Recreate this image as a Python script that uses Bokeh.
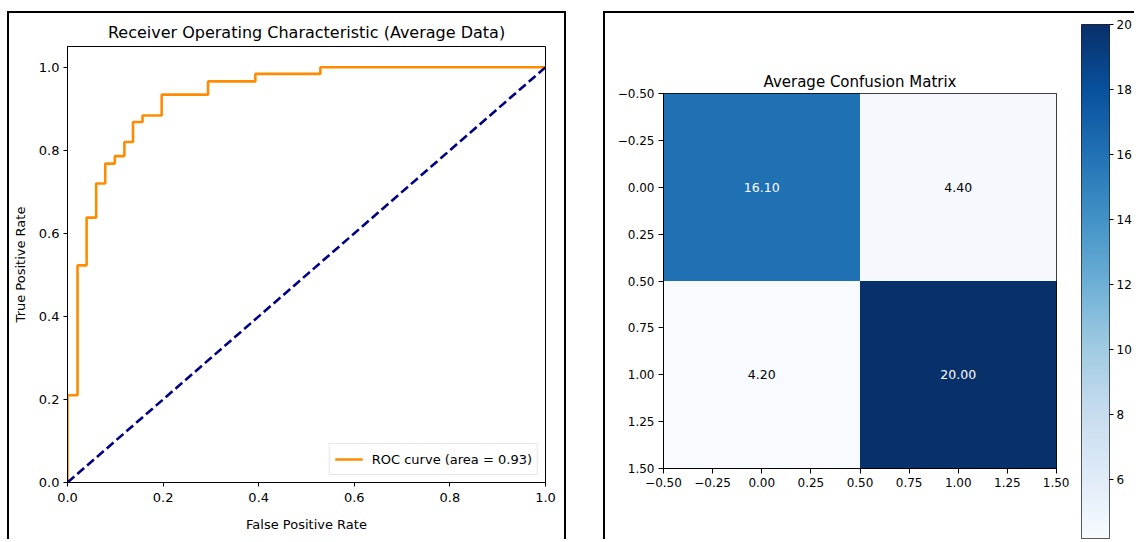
import numpy as np
from bokeh.plotting import figure
from bokeh.models import (Range1d, ColumnDataSource, Legend, LegendItem,
                          LinearColorMapper, FixedTicker, Spacer,
                          PrintfTickFormatter, CustomJSTickFormatter)
from bokeh.layouts import row, column
from bokeh.embed import file_html
from bokeh.resources import INLINE
from bokeh.palettes import Blues256
from bokeh.core.properties import value

# ---------------- data ----------------
fpr = [0.0, 0.0, 0.021, 0.021, 0.040, 0.040, 0.060, 0.060, 0.079, 0.079,
       0.099, 0.099, 0.119, 0.119, 0.137, 0.137, 0.157, 0.157, 0.197, 0.197,
       0.294, 0.294, 0.393, 0.393, 0.529, 0.529, 1.0]
tpr = [0.0, 0.21, 0.21, 0.523, 0.523, 0.638, 0.638, 0.72, 0.72, 0.768,
       0.768, 0.786, 0.786, 0.82, 0.82, 0.868, 0.868, 0.884, 0.884, 0.934,
       0.934, 0.966, 0.966, 0.984, 0.984, 1.0, 1.0]
roc_auc = 0.93
chance_x = [0.0, 1.0]
chance_y = [0.0, 1.0]

cm_rows = [0, 0, 1, 1]
cm_cols = [0, 1, 0, 1]
cm_vals = [16.10, 4.40, 4.20, 20.00]
cm_ticks = [-0.5, -0.25, 0.0, 0.25, 0.5, 0.75, 1.0, 1.25, 1.5]
cbar_ticks = [6, 8, 10, 12, 14, 16, 18, 20]
roc_ticks = [0.0, 0.2, 0.4, 0.6, 0.8, 1.0]

FONT = "DejaVu Sans"
H = 528


def style_axis(ax, size):
    ax.major_label_text_font = FONT
    ax.major_label_text_font_size = size
    ax.major_label_text_color = "black"
    ax.axis_label_text_font = FONT
    ax.axis_label_text_font_size = size
    ax.axis_label_text_font_style = "normal"
    ax.axis_label_text_color = "black"
    ax.major_tick_in = 0
    ax.minor_tick_out = 0
    ax.minor_tick_in = 0
    ax.axis_line_color = "black"
    ax.major_tick_line_color = "black"


# ---------------- ROC figure ----------------
p1 = figure(width=555, height=H, x_range=Range1d(0, 1), y_range=Range1d(0, 1.05),
            output_backend="svg", toolbar_location=None,
            min_border_left=58, min_border_right=19, min_border_top=33, min_border_bottom=59,
            styles={"box-shadow": "-2px -2px 0 0 black, 2px -2px 0 0 black"})
p1.title.text = "Receiver Operating Characteristic (Average Data)"
p1.title.align = "center"
p1.title.text_font = FONT
p1.title.text_font_size = "16px"
p1.title.text_font_style = "normal"
p1.title.text_color = "black"
p1.title.standoff = 9
p1.grid.visible = False
p1.outline_line_color = "black"
p1.outline_line_alpha = 1.0
for ax in (p1.xaxis, p1.yaxis):
    style_axis(ax, "13px")
    ax.ticker = FixedTicker(ticks=roc_ticks)
    ax.formatter = PrintfTickFormatter(format="%.1f")
    ax.major_tick_out = 4
p1.xaxis.major_label_standoff = 6
p1.yaxis.major_label_standoff = 4
p1.xaxis.axis_label = "False Positive Rate"
p1.yaxis.axis_label = "True Positive Rate"
p1.xaxis.axis_label_standoff = 12
p1.yaxis.axis_label_standoff = 8

roc_r = p1.line(fpr, tpr, line_color="#ff8c00", line_width=2.6)
p1.line(chance_x, chance_y, line_color="#000080", line_width=2.6, line_dash="9 4")

legend = Legend(items=[LegendItem(label="ROC curve (area = %0.2f)" % roc_auc, renderers=[roc_r])],
                location="bottom_right", margin=7, padding=5, spacing=0,
                glyph_width=28, glyph_height=20, label_standoff=9,
                label_text_font=FONT, label_text_font_size="13px", label_text_color="black",
                border_line_color="#cccccc", border_line_width=1,
                background_fill_alpha=0.8)
p1.add_layout(legend, "center")

# ---------------- Confusion matrix ----------------
palette = tuple(reversed(Blues256))
mapper = LinearColorMapper(palette=palette, low=min(cm_vals), high=max(cm_vals))
thresh = max(cm_vals) / 2.0
src = ColumnDataSource(dict(
    x=cm_cols, y=cm_rows, v=cm_vals,
    label=["%.2f" % v for v in cm_vals],
    tcol=["white" if v > thresh else "black" for v in cm_vals]))

p2 = figure(width=464, height=H, x_range=Range1d(-0.5, 1.5), y_range=Range1d(1.5, -0.5),
            output_backend="svg", toolbar_location=None,
            min_border_left=58, min_border_right=13, min_border_top=80, min_border_bottom=73,
            styles={"box-shadow": "-2px -2px 0 0 black, 0 -2px 0 0 black"})
p2.title.text = "Average Confusion Matrix"
p2.title.align = "center"
p2.title.text_font = FONT
p2.title.text_font_size = "15px"
p2.title.text_font_style = "normal"
p2.title.text_color = "black"
p2.title.standoff = 6
p2.grid.visible = False
p2.outline_line_color = "black"
p2.outline_line_alpha = 1.0
p2.rect(x="x", y="y", width=1, height=1, source=src,
        fill_color={"field": "v", "transform": mapper}, line_color=None)
p2.text(x="x", y="y", text="label", source=src, text_color="tcol",
        text_align="center", text_baseline="middle",
        text_font=value(FONT), text_font_size="12.5px")
fmt = CustomJSTickFormatter(code="return (tick < 0 ? '\u2212' : '') + Math.abs(tick).toFixed(2);")
for ax in (p2.xaxis, p2.yaxis):
    style_axis(ax, "12px")
    ax.ticker = FixedTicker(ticks=cm_ticks)
    ax.formatter = fmt
    ax.major_tick_out = 5
    ax.major_label_standoff = 4

# ---------------- Colorbar ----------------
p3 = figure(width=65, height=H, x_range=Range1d(0, 1),
            y_range=Range1d(min(cm_vals), max(cm_vals)),
            y_axis_location="right", output_backend="svg", toolbar_location=None,
            min_border_left=12, min_border_right=25, min_border_top=11, min_border_bottom=3,
            styles={"box-shadow": "0 -2px 0 0 black"})
p3.xaxis.visible = False
p3.grid.visible = False
p3.outline_line_color = "#222222"
p3.outline_line_alpha = 1.0
ramp = np.linspace(min(cm_vals), max(cm_vals), 256).reshape(256, 1)
p3.image(image=[ramp], x=0, y=min(cm_vals), dw=1, dh=max(cm_vals) - min(cm_vals),
         color_mapper=mapper)
style_axis(p3.yaxis, "12px")
p3.yaxis.ticker = FixedTicker(ticks=cbar_ticks)
p3.yaxis.major_tick_out = 4
p3.yaxis.axis_line_color = None
p3.yaxis.major_label_standoff = 3

layout = column(Spacer(height=13),
                row(Spacer(width=9), column(p1), Spacer(width=41), column(p2), column(p3)))

open("out.html", "w").write(file_html(layout, INLINE))
